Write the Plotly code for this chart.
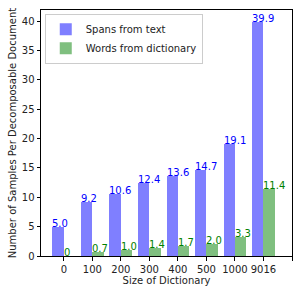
import plotly.graph_objects as go

categories = ["0", "100", "200", "300", "400", "500", "1000", "9016"]
spans = [5.0, 9.2, 10.6, 12.4, 13.6, 14.7, 19.1, 39.9]
words = [0, 0.7, 1.0, 1.4, 1.7, 2.0, 3.3, 11.4]
span_labels = ["5.0", "9.2", "10.6", "12.4", "13.6", "14.7", "19.1", "39.9"]
word_labels = ["0", "0.7", "1.0", "1.4", "1.7", "2.0", "3.3", "11.4"]

idx = list(range(len(categories)))
w = 0.4
font = "DejaVu Sans, sans-serif"

fig = go.Figure()
fig.add_bar(x=[i - w / 2 for i in idx], y=spans, width=w, name="Spans from text",
            marker=dict(color="rgba(0,0,255,0.5)", line=dict(width=0)))
fig.add_bar(x=[i + w / 2 for i in idx], y=words, width=w, name="Words from dictionary",
            marker=dict(color="rgba(0,128,0,0.5)", line=dict(width=0)))

for i, v, t in zip(idx, spans, span_labels):
    fig.add_annotation(x=i - w, y=v, text=t, xanchor="left", yanchor="bottom", showarrow=False,
                       font=dict(color="blue", size=10, family=font), xshift=-2, yshift=-4)
for i, v, t in zip(idx, words, word_labels):
    fig.add_annotation(x=i, y=v, text=t, xanchor="left", yanchor="bottom", showarrow=False,
                       font=dict(color="green", size=10, family=font), xshift=-2, yshift=-4)

fig.update_layout(
    width=302, height=293,
    margin=dict(l=41, r=10, t=10, b=37),
    plot_bgcolor="white", paper_bgcolor="white",
    barmode="overlay", bargap=0,
    font=dict(family=font, size=10, color="#222222"),
    showlegend=True,
    legend=dict(x=0.015, y=0.985, xanchor="left", yanchor="top",
                bordercolor="#cccccc", borderwidth=1, bgcolor="rgba(255,255,255,0.8)",
                font=dict(size=10), tracegroupgap=0, itemwidth=30),
)
fig.update_xaxes(
    range=[-0.8, 8], tickmode="array", tickvals=idx + [8], ticktext=categories + [""],
    tickangle=0,
    showline=True, linecolor="black", linewidth=1, mirror=True, automargin=False,
    ticks="outside", ticklen=3.5, tickcolor="black", showgrid=False, zeroline=False,
    title=dict(text="Size of Dictionary", standoff=3, font=dict(size=10)),
)
fig.update_yaxes(
    range=[0, 41.9], tickvals=[0, 5, 10, 15, 20, 25, 30, 35, 40],
    showline=True, linecolor="black", linewidth=1, mirror=True, automargin=False,
    ticks="outside", ticklen=3.5, tickcolor="black", showgrid=False, zeroline=False,
    title=dict(text="Number of Samples Per Decomposable Document", standoff=3, font=dict(size=10)),
)

fig.write_html("out.html", post_script="document.body.style.margin='0';",
               config={"displayModeBar": False})
